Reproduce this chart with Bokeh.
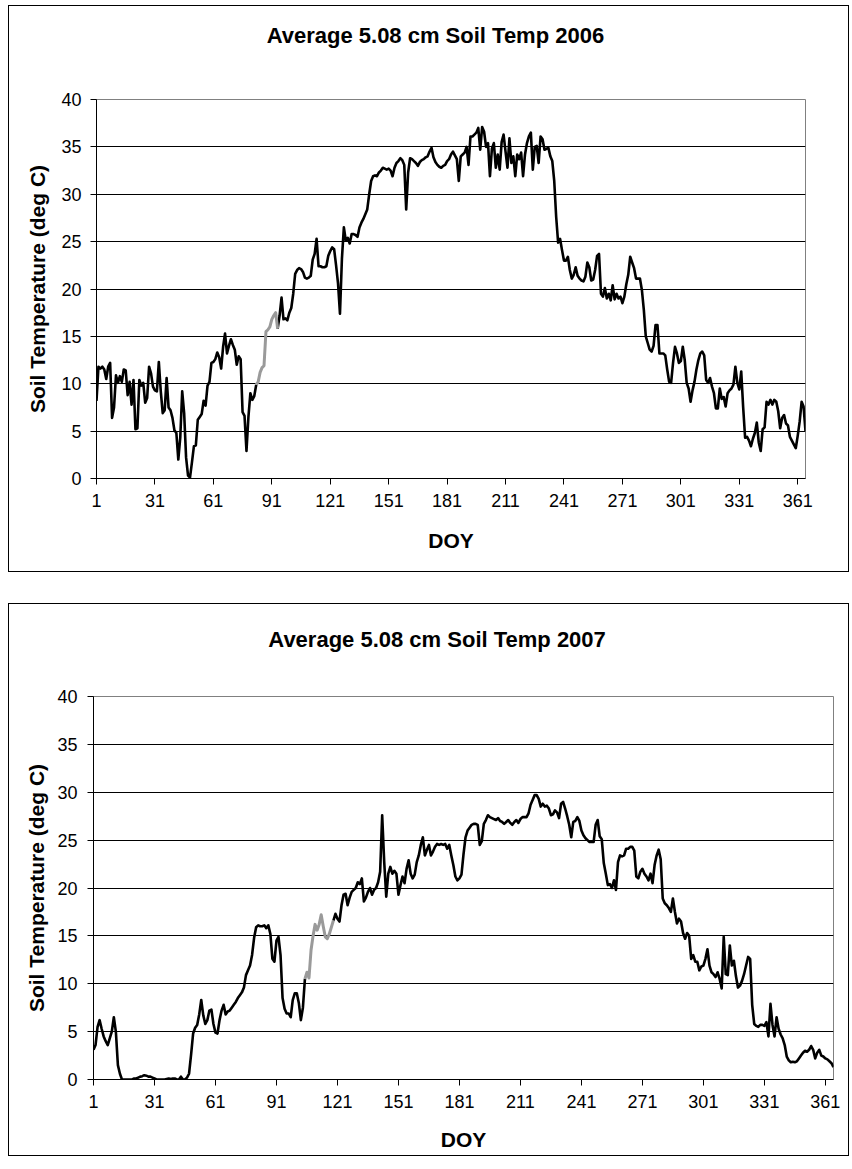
import math
from bokeh.plotting import figure
from bokeh.models import Range1d, FixedTicker, LinearAxis
from bokeh.embed import file_html
from bokeh.resources import INLINE

# ---------------- data ----------------
days = list(range(1, 366))

temp_2006 = [
    8.2, 11.8, 11.6, 11.8, 11.5, 10.5, 11.8, 12.2, 6.4, 7.5,
    10.9, 10.1, 10.8, 10.2, 11.5, 11.4, 8.8, 10.2, 7.8, 10.4,
    5.2, 5.3, 10.4, 9.8, 10.1, 8.0, 8.5, 11.8, 11.1, 9.7,
    9.3, 9.2, 12.3, 9.2, 6.9, 7.2, 10.6, 7.5, 7.2, 6.4,
    5.1, 4.8, 2.0, 4.3, 9.2, 6.9, 2.2, 0.3, 0.1, 1.7,
    3.4, 3.5, 6.2, 6.5, 6.8, 8.2, 7.7, 9.8, 10.2, 12.2,
    12.3, 12.6, 13.3, 12.8, 11.6, 13.9, 15.3, 13.2, 14.0, 14.7,
    14.1, 13.6, 12.0, 12.9, 12.6, 7.0, 6.6, 2.9, 6.5, 9.0,
    8.3, 8.7, 9.9, 10.2, 11.2, 11.7, 11.9, 15.5, 15.7, 16.0,
    16.8, 17.2, 17.5, 15.8, 17.2, 19.1, 16.8, 16.9, 16.7, 17.5,
    18.0, 19.5, 21.6, 22.0, 22.2, 22.1, 21.8, 21.2, 21.1, 21.2,
    21.4, 23.1, 23.7, 25.3, 22.4, 22.4, 22.3, 22.3, 22.4, 23.5,
    24.0, 24.4, 24.2, 22.5, 20.6, 17.4, 23.2, 26.5, 25.1, 25.4,
    24.8, 25.8, 25.8, 25.7, 25.5, 26.5, 27.0, 27.4, 27.9, 28.4,
    30.0, 31.4, 31.9, 32.0, 31.9, 32.3, 32.5, 32.8, 32.7, 32.6,
    32.7, 32.5, 31.9, 32.8, 33.3, 33.5, 33.8, 33.6, 33.1, 28.4,
    32.3, 33.8, 33.7, 33.5, 33.3, 33.0, 33.4, 33.6, 33.7, 33.9,
    34.0, 34.5, 34.9, 33.9, 33.4, 33.1, 32.9, 32.8, 33.0, 33.1,
    33.5, 33.7, 34.2, 34.5, 34.1, 33.7, 31.4, 34.0, 34.2, 34.4,
    35.0, 33.1, 36.1, 36.1, 36.3, 36.5, 37.0, 34.7, 37.1, 36.6,
    35.0, 35.4, 31.9, 34.8, 35.4, 32.8, 34.2, 32.6, 35.5, 36.3,
    34.5, 32.8, 35.9, 33.3, 34.0, 31.9, 34.2, 33.7, 34.4, 31.9,
    34.2, 35.4, 36.1, 36.5, 32.6, 35.0, 35.1, 33.3, 36.1, 35.8,
    34.7, 34.8, 34.9, 34.0, 33.5, 31.4, 27.6, 24.9, 25.3, 24.1,
    23.0, 23.0, 23.4, 22.0, 21.1, 21.5, 22.3, 21.4, 21.1, 20.9,
    20.8, 21.3, 22.8, 22.3, 20.9, 21.0, 22.0, 23.5, 23.7, 19.5,
    19.2, 20.1, 19.0, 19.5, 18.8, 20.4, 18.9, 19.5, 19.0, 19.2,
    18.5, 19.2, 20.5, 21.5, 23.4, 22.8, 22.2, 21.1, 21.1, 21.1,
    19.9, 17.8, 15.0, 14.3, 13.6, 13.4, 14.0, 16.2, 16.2, 13.2,
    13.2, 13.2, 13.0, 11.5, 10.2, 10.1, 12.2, 13.9, 13.2, 12.2,
    12.4, 13.9, 12.5, 10.1, 9.5, 8.1, 9.3, 10.2, 11.5, 12.5,
    13.2, 13.4, 13.0, 10.4, 10.1, 10.6, 9.7, 9.0, 7.4, 7.4,
    9.5, 8.4, 8.6, 7.6, 9.0, 9.3, 9.5, 9.9, 11.8, 10.1,
    9.4, 11.3, 7.5, 4.3, 4.4, 4.0, 3.4, 4.2, 4.8, 5.9,
    3.8, 2.9, 5.2, 5.4, 8.1, 7.8, 8.3, 7.8, 8.3, 8.1,
    7.1, 5.3, 6.4, 6.7, 5.8, 5.6, 4.4, 4.0, 3.6, 3.2,
    4.5, 6.0, 8.1, 7.6, 5.0,
]

temp_2007 = [
    3.1, 3.6, 5.5, 6.2, 5.3, 4.5, 4.0, 3.6, 4.3, 5.0,
    6.5, 5.0, 1.5, 0.6, 0.0, 0.0, 0.0, 0.0, 0.0, 0.0,
    0.1, 0.1, 0.2, 0.3, 0.35, 0.45, 0.4, 0.3, 0.3, 0.2,
    0.1, 0.0, 0.0, 0.0, 0.0, 0.0, 0.05, 0.1, 0.05, 0.1,
    0.1, 0.0, 0.0, 0.3, 0.0, 0.0, 0.2, 0.6, 2.6, 4.8,
    5.4, 5.7, 6.8, 8.3, 6.7, 5.8, 6.2, 7.2, 7.3, 5.8,
    4.9, 4.8, 6.2, 7.2, 7.8, 6.8, 7.1, 7.2, 7.5, 7.8,
    8.1, 8.5, 8.8, 9.1, 9.6, 10.9, 11.4, 11.9, 13.0, 14.8,
    15.9, 16.1, 16.0, 16.0, 16.1, 15.8, 16.1, 15.2, 12.6, 12.3,
    14.5, 14.9, 13.0, 8.5, 7.4, 6.9, 6.9, 6.5, 8.3, 9.0,
    9.0, 8.0, 6.2, 7.5, 10.5, 11.2, 10.6, 13.5, 15.0, 16.2,
    15.6, 16.2, 17.2, 16.0, 14.9, 14.7, 15.2, 15.9, 16.6, 17.3,
    16.8, 16.5, 18.2, 19.3, 19.4, 18.2, 19.0, 19.6, 19.8, 20.0,
    20.6, 20.4, 21.0, 18.6, 19.0, 19.6, 20.0, 19.3, 19.8, 20.0,
    20.6, 21.7, 27.6, 22.7, 19.1, 21.5, 22.2, 21.5, 21.8, 21.5,
    19.3, 20.3, 21.2, 20.5, 22.0, 22.9, 21.5, 21.0, 21.4, 22.7,
    23.4, 24.5, 25.3, 23.4, 24.0, 24.5, 23.4, 23.8, 24.3, 24.6,
    24.5, 24.6, 24.5, 24.6, 24.1, 24.5, 23.4, 22.4, 21.2, 20.8,
    21.0, 21.4, 23.5, 25.3, 26.0, 26.3, 26.6, 26.7, 26.7, 26.6,
    24.5, 24.9, 26.7, 27.1, 27.6, 27.4, 27.3, 27.2, 27.1, 27.3,
    27.0, 26.9, 26.7, 26.9, 27.1, 26.8, 26.6, 26.9, 27.1, 26.8,
    27.2, 27.4, 27.4, 27.4, 27.8, 28.7, 29.2, 29.7, 29.7, 29.3,
    28.5, 28.8, 28.5, 28.6, 28.3, 27.6, 27.7, 28.1, 27.9, 27.3,
    28.8, 29.0, 28.3, 27.5, 26.6, 25.3, 26.9, 27.0, 27.4, 27.0,
    26.0, 25.5, 25.2, 25.0, 24.8, 24.8, 24.8, 26.6, 27.1, 25.4,
    25.1, 22.6, 21.5, 20.3, 20.4, 20.0, 20.8, 19.8, 22.7, 23.4,
    23.3, 23.4, 24.1, 24.1, 24.3, 24.3, 23.9, 21.2, 21.0, 21.7,
    22.0, 21.5, 21.2, 20.8, 21.5, 20.5, 22.4, 23.4, 24.0, 23.0,
    18.9, 18.4, 18.2, 17.9, 17.5, 18.9, 17.5, 16.3, 16.8, 16.5,
    15.3, 14.7, 15.3, 15.0, 12.6, 13.0, 12.3, 12.3, 11.4, 11.8,
    11.9, 12.6, 13.6, 11.9, 11.2, 11.0, 10.7, 11.2, 10.5, 9.5,
    14.9, 11.0, 10.9, 14.0, 11.9, 12.4, 10.8, 9.6, 9.8, 10.3,
    11.0, 11.9, 12.8, 12.6, 7.8, 5.8, 5.6, 5.5, 5.7, 5.7,
    5.6, 6.0, 4.5, 7.9, 5.7, 4.5, 6.5, 5.3, 4.7, 4.3,
    3.6, 2.4, 2.0, 1.8, 1.85, 1.8, 1.9, 2.2, 2.5, 2.8,
    3.0, 2.9, 3.1, 3.5, 3.1, 2.2, 2.8, 3.1, 2.5, 2.4,
    2.2, 2.1, 1.9, 1.7, 1.3,
]

# first and last DOY of the grey (estimated) stretch
estimated_2006 = [83, 94]
estimated_2007 = [105, 119]

titles = ["Average 5.08 cm Soil Temp 2006", "Average 5.08 cm Soil Temp 2007"]
x_axis_title = "DOY"
y_axis_title = "Soil Temperature (deg C)"
x_tick_days = [1, 31, 61, 91, 121, 151, 181, 211, 241, 271, 301, 331, 361]
y_tick_values = [0, 5, 10, 15, 20, 25, 30, 35, 40]
grid_values = [5, 10, 15, 20, 25, 30, 35]

FONT = "Liberation Sans"


def build(title, temps, est, W, H, bl, br, bt, bb, title_at, title_so,
          xtick_so, xlab_so, ytick_so, ylab_so, margin):
    p = figure(width=W, height=H,
               min_border_left=bl, min_border_right=br,
               min_border_top=bt, min_border_bottom=bb,
               x_range=Range1d(1, 365), y_range=Range1d(0, 40),
               output_backend="svg", toolbar_location=None,
               background_fill_color="white", border_fill_color="white",
               margin=margin)
    p.styles = {"border": "1px solid #000000"}
    p.outline_line_color = "#808080"
    p.outline_line_width = 1

    black = [t if (d <= est[0] or d >= est[1]) else math.nan for d, t in zip(days, temps)]
    grey = [t if (est[0] <= d <= est[1]) else math.nan for d, t in zip(days, temps)]
    p.line(days, black, line_color="black", line_width=2.6, line_join="round")
    p.line(days, grey, line_color="#9a9a9a", line_width=3.0, line_join="round")

    p.xgrid.visible = False
    p.ygrid.ticker = FixedTicker(ticks=grid_values)
    p.ygrid.grid_line_color = "black"
    p.ygrid.grid_line_width = 1

    for ax in (p.xaxis[0], p.yaxis[0]):
        ax.axis_line_color = "black"
        ax.axis_line_width = 1
        ax.major_tick_in = 0
        ax.major_tick_out = 6
        ax.minor_tick_in = 0
        ax.minor_tick_out = 0
        ax.major_tick_line_color = "black"
        ax.major_label_text_font = FONT
        ax.major_label_text_font_size = "18px"
        ax.major_label_text_color = "black"
        ax.axis_label_text_font = FONT
        ax.axis_label_text_font_size = "21px"
        ax.axis_label_text_font_style = "bold"
        ax.axis_label_text_color = "black"

    p.xaxis.ticker = FixedTicker(ticks=x_tick_days)
    p.yaxis.ticker = FixedTicker(ticks=y_tick_values)
    p.xaxis.axis_label = x_axis_title
    p.yaxis.axis_label = y_axis_title
    p.xaxis.major_label_standoff = xtick_so
    p.xaxis.axis_label_standoff = xlab_so
    p.yaxis.major_label_standoff = ytick_so
    p.yaxis.axis_label_standoff = ylab_so

    # chart title: a single labelled tick on a bare axis above the plot area
    top = LinearAxis(ticker=FixedTicker(ticks=[title_at]),
                     major_label_overrides={title_at: title},
                     axis_line_color=None, major_tick_line_color=None,
                     major_tick_out=0, major_tick_in=0,
                     minor_tick_out=0, minor_tick_in=0,
                     major_label_standoff=title_so,
                     major_label_text_font=FONT, major_label_text_font_size="22px",
                     major_label_text_font_style="bold", major_label_text_color="black")
    p.add_layout(top, "above")
    return p


p1 = build(titles[0], temp_2006, estimated_2006, 841, 567, 87, 45, 93, 95,
           175, 52, 9, 19, 9, 9, (5, 0, 0, 8))
p2 = build(titles[1], temp_2007, estimated_2007, 841, 553, 84, 17, 92, 78,
           170, 45, 9, 17, 10, 6, (31, 0, 0, 8))

open("out.html", "w").write(file_html([p1, p2], INLINE))
